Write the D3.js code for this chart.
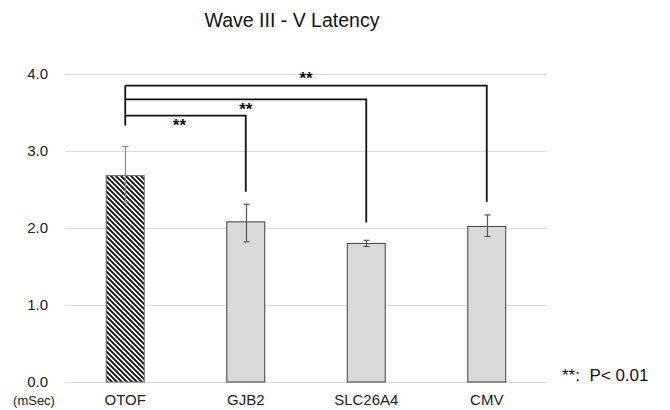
<!DOCTYPE html>
<html>
<head>
<meta charset="utf-8">
<script src="https://cdn.jsdelivr.net/npm/d3@7"></script>
<style>
  html, body { margin: 0; padding: 0; background: #fff; }
  svg { display: block; font-family: Arial, "Liberation Sans", sans-serif; }
</style>
</head>
<body>
<svg id="chart" width="670" height="410"></svg>
<script>
// ---- data ----
const categories = ["OTOF", "GJB2", "SLC26A4", "CMV"];
const means = [2.68, 2.08, 1.80, 2.02];
const errUp = [0.38, 0.23, 0.04, 0.15];
const errDown = [0.34, 0.26, 0.04, 0.13];
const yTicks = [0, 1, 2, 3, 4];
const yTickLabels = ["0.0", "1.0", "2.0", "3.0", "4.0"];
const title = "Wave III - V Latency";
const unitLabel = "(mSec)";
const legendNote = "**:  P< 0.01";
// significance comparisons (reference group OTOF)
const compTargets = ["GJB2", "SLC26A4", "CMV"];
const compLevels = [3.46, 3.67, 3.85];     // bracket height (mSec units)
const compEnds = [2.47, 2.07, 2.34];       // bottom of the target's drop line
const compStarX = [0.45, 1.0, 1.5];        // star position (category index)
const compStarY = [3.36, 3.57, 3.97];
const compLabel = "**";
const refBottom = 3.33;

// ---- layout ----
const svg = d3.select("#chart");
const x = d3.scaleBand().domain(categories).range([65, 547])
  .paddingInner(0.685).paddingOuter(0.3425);
const xi = d3.scaleLinear().domain([0, categories.length - 1])
  .range([x(categories[0]) + x.bandwidth() / 2, x(categories[categories.length - 1]) + x.bandwidth() / 2]);
const y = d3.scaleLinear().domain([0, 4]).range([382, 74]);
const cx = c => x(c) + x.bandwidth() / 2;

// hatch pattern
const defs = svg.append("defs");
const pat = defs.append("pattern").attr("id", "hatch")
  .attr("patternUnits", "userSpaceOnUse").attr("width", 5).attr("height", 5);
pat.append("rect").attr("width", 5).attr("height", 5).attr("fill", "#fff");
pat.append("path").attr("d", "M-1,-1 L6,6 M-1,4 L1,6 M4,-1 L6,1")
  .attr("stroke", "#111").attr("stroke-width", 1.9);

// gridlines
svg.append("g").selectAll("line").data(yTicks).join("line")
  .attr("x1", 65).attr("x2", 547)
  .attr("y1", d => y(d) + 0.5).attr("y2", d => y(d) + 0.5)
  .attr("stroke", "#d9d9d9").attr("stroke-width", 1);

// y axis labels
const yAxis = svg.append("g").attr("transform", "translate(65,0)")
  .call(d3.axisLeft(y).tickValues(yTicks).tickFormat((d, i) => yTickLabels[i]).tickSize(0).tickPadding(17));
yAxis.select(".domain").remove();
yAxis.selectAll("text").attr("font-size", 15).attr("fill", "#222")
  .attr("font-family", "Arial, 'Liberation Sans', sans-serif");

// x axis labels
const xAxis = svg.append("g").attr("transform", `translate(0,${y(0)})`)
  .call(d3.axisBottom(x).tickSize(0).tickPadding(12.5));
xAxis.select(".domain").remove();
xAxis.selectAll("text").attr("font-size", 15).attr("fill", "#222")
  .attr("font-family", "Arial, 'Liberation Sans', sans-serif");

// bars
svg.append("g").selectAll("rect").data(categories).join("rect")
  .attr("x", d => x(d)).attr("width", x.bandwidth())
  .attr("y", (d, i) => y(means[i])).attr("height", (d, i) => y(0) - y(means[i]))
  .attr("fill", (d, i) => i === 0 ? "url(#hatch)" : "#d9d9d9")
  .attr("stroke", (d, i) => i === 0 ? "#666" : "#404040")
  .attr("stroke-width", 1);

// error bars
const eb = svg.append("g");
categories.forEach((c, i) => {
  const col = i === 0 ? "#8a8a8a" : "#555";
  const top = y(means[i] + errUp[i]), bot = y(means[i] - errDown[i]);
  const xc = Math.round(cx(c)) + 0.5;
  eb.append("line").attr("x1", xc).attr("x2", xc).attr("y1", top).attr("y2", bot)
    .attr("stroke", col).attr("stroke-width", 1.2);
  [top, bot].forEach(v => eb.append("line").attr("x1", xc - 3).attr("x2", xc + 3)
    .attr("y1", v).attr("y2", v).attr("stroke", col).attr("stroke-width", 1.2));
});

// significance brackets
const br = svg.append("g").attr("fill", "none").attr("stroke", "#111").attr("stroke-width", 1.8);
const refX = cx(categories[0]);
br.append("line").attr("x1", refX).attr("x2", refX)
  .attr("y1", y(d3.max(compLevels))).attr("y2", y(refBottom));
compTargets.forEach((t, i) => {
  br.append("path").attr("d",
    `M${refX},${y(compLevels[i])} L${cx(t)},${y(compLevels[i])} L${cx(t)},${y(compEnds[i])}`);
  svg.append("text").attr("x", xi(compStarX[i])).attr("y", y(compStarY[i]) + 8)
    .attr("text-anchor", "middle").attr("font-size", 17).attr("font-weight", "bold")
    .attr("fill", "#111").text(compLabel);
});

// title
svg.append("text").attr("x", 292).attr("y", 27).attr("text-anchor", "middle")
  .attr("font-size", 19.5).attr("fill", "#111").text(title);

// unit label
svg.append("text").attr("x", 34).attr("y", 405).attr("text-anchor", "middle")
  .attr("font-size", 13).attr("fill", "#222").text(unitLabel);

// p-value note
svg.append("text").attr("x", 562).attr("y", 381).attr("font-size", 17)
  .attr("fill", "#111").attr("xml:space", "preserve").style("white-space", "pre").text(legendNote);
</script>
</body>
</html>
